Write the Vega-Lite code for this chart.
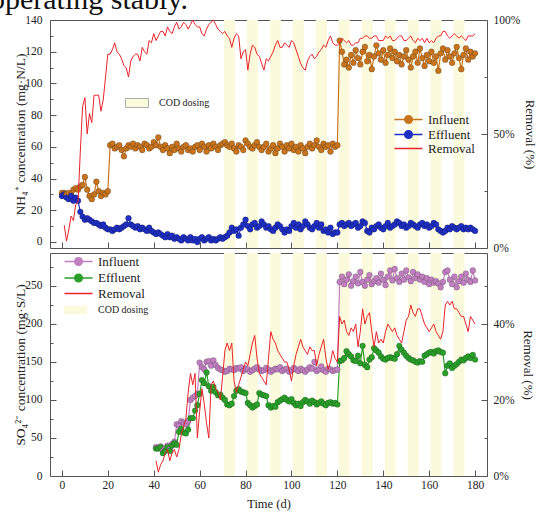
{
"$schema": "https://vega.github.io/schema/vega-lite/v6.json",
"autosize": {"type": "pad"},
"padding": {"left": -10, "top": -16, "right": 0, "bottom": 0},
"background": "white",
"title": {"text": "operating stably.", "anchor": "start", "frame": "group", "font": "Liberation Serif", "fontSize": 30, "fontWeight": "normal", "color": "#111", "dx": -60, "dy": 25, "baseline": "alphabetic", "offset": 0},
"datasets": {
"cod": [{"s":70.6,"e":75.4},{"s":80.6,"e":85.4},{"s":90.6,"e":95.4},{"s":100.6,"e":105.4},{"s":110.6,"e":115.4},{"s":120.6,"e":125.4},{"s":130.6,"e":135.4},{"s":140.6,"e":145.4},{"s":150.6,"e":155.4},{"s":160.6,"e":165.4},{"s":170.6,"e":175.4}],
"top": [
{"d":0,"Influent":31,"Effluent":29},
{"d":1,"Influent":31,"Effluent":30,"Removal":10},
{"d":2,"Influent":30,"Effluent":28,"Removal":3},
{"d":3,"Influent":31,"Effluent":27,"Removal":8},
{"d":4,"Influent":30,"Effluent":29,"Removal":14},
{"d":5,"Influent":33,"Effluent":26,"Removal":12},
{"d":6,"Influent":34,"Effluent":28,"Removal":19},
{"d":7,"Influent":33,"Effluent":26,"Removal":20},
{"d":8,"Influent":35,"Effluent":19,"Removal":42},
{"d":9,"Influent":36,"Effluent":16,"Removal":62},
{"d":10,"Influent":41,"Effluent":14,"Removal":66},
{"d":11,"Influent":33,"Effluent":15,"Removal":50},
{"d":12,"Influent":29,"Effluent":14,"Removal":59},
{"d":13,"Influent":27,"Effluent":13,"Removal":55},
{"d":14,"Influent":30,"Effluent":12,"Removal":67},
{"d":15,"Influent":38,"Effluent":12,"Removal":67},
{"d":16,"Influent":32,"Effluent":11,"Removal":67},
{"d":17,"Influent":29,"Effluent":10,"Removal":60},
{"d":18,"Influent":31,"Effluent":11,"Removal":65},
{"d":19,"Influent":30,"Effluent":9,"Removal":75},
{"d":20,"Influent":32,"Effluent":8,"Removal":85},
{"d":21,"Influent":61,"Effluent":8,"Removal":85},
{"d":22,"Influent":62,"Effluent":7,"Removal":87},
{"d":23,"Influent":59,"Effluent":8,"Removal":90},
{"d":24,"Influent":60,"Effluent":9,"Removal":86},
{"d":25,"Influent":61,"Effluent":8,"Removal":85},
{"d":26,"Influent":58,"Effluent":9,"Removal":83},
{"d":27,"Influent":54,"Effluent":10,"Removal":80},
{"d":28,"Influent":59,"Effluent":11,"Removal":79},
{"d":29,"Influent":61,"Effluent":15,"Removal":75},
{"d":30,"Influent":60,"Effluent":11,"Removal":82},
{"d":31,"Influent":62,"Effluent":10,"Removal":84},
{"d":32,"Influent":59,"Effluent":9,"Removal":85},
{"d":33,"Influent":61,"Effluent":10,"Removal":85},
{"d":34,"Influent":60,"Effluent":8,"Removal":82},
{"d":35,"Influent":58,"Effluent":9,"Removal":88},
{"d":36,"Influent":62,"Effluent":8,"Removal":86},
{"d":37,"Influent":61,"Effluent":7,"Removal":85},
{"d":38,"Influent":59,"Effluent":9,"Removal":91},
{"d":39,"Influent":60,"Effluent":7,"Removal":90},
{"d":40,"Influent":63,"Effluent":6,"Removal":94},
{"d":41,"Influent":61,"Effluent":5,"Removal":91},
{"d":42,"Influent":66,"Effluent":6,"Removal":93},
{"d":43,"Influent":60,"Effluent":5,"Removal":95},
{"d":44,"Influent":58,"Effluent":4,"Removal":95},
{"d":45,"Influent":61,"Effluent":3,"Removal":93},
{"d":46,"Influent":59,"Effluent":5,"Removal":97},
{"d":47,"Influent":56,"Effluent":3,"Removal":95},
{"d":48,"Influent":60,"Effluent":4,"Removal":94},
{"d":49,"Influent":58,"Effluent":2,"Removal":97},
{"d":50,"Influent":62,"Effluent":3,"Removal":99},
{"d":51,"Influent":59,"Effluent":2,"Removal":96},
{"d":52,"Influent":57,"Effluent":1,"Removal":97},
{"d":53,"Influent":60,"Effluent":3,"Removal":99},
{"d":54,"Influent":61,"Effluent":2,"Removal":98},
{"d":55,"Influent":58,"Effluent":1,"Removal":96},
{"d":56,"Influent":59,"Effluent":3,"Removal":98},
{"d":57,"Influent":57,"Effluent":1,"Removal":100},
{"d":58,"Influent":60,"Effluent":2,"Removal":98},
{"d":59,"Influent":61,"Effluent":0,"Removal":97},
{"d":60,"Influent":58,"Effluent":2,"Removal":97},
{"d":61,"Influent":62,"Effluent":3,"Removal":94},
{"d":62,"Influent":60,"Effluent":1,"Removal":93},
{"d":63,"Influent":57,"Effluent":2,"Removal":96},
{"d":64,"Influent":61,"Effluent":3,"Removal":98},
{"d":65,"Influent":59,"Effluent":1,"Removal":99},
{"d":66,"Influent":62,"Effluent":2,"Removal":100},
{"d":67,"Influent":60,"Effluent":1,"Removal":98},
{"d":68,"Influent":58,"Effluent":2,"Removal":96},
{"d":69,"Influent":61,"Effluent":3,"Removal":95},
{"d":70,"Influent":62,"Effluent":2,"Removal":94},
{"d":71,"Influent":63,"Effluent":3,"Removal":95},
{"d":72,"Influent":61,"Effluent":4,"Removal":93},
{"d":73,"Influent":60,"Effluent":6,"Removal":92},
{"d":74,"Influent":62,"Effluent":9,"Removal":88},
{"d":75,"Influent":59,"Effluent":7,"Removal":92},
{"d":76,"Influent":57,"Effluent":8,"Removal":94},
{"d":77,"Influent":61,"Effluent":4,"Removal":93},
{"d":78,"Influent":60,"Effluent":9,"Removal":83},
{"d":79,"Influent":58,"Effluent":11,"Removal":86},
{"d":80,"Influent":64,"Effluent":14,"Removal":87},
{"d":81,"Influent":62,"Effluent":10,"Removal":78},
{"d":82,"Influent":60,"Effluent":8,"Removal":85},
{"d":83,"Influent":59,"Effluent":11,"Removal":89},
{"d":84,"Influent":61,"Effluent":12,"Removal":88},
{"d":85,"Influent":63,"Effluent":9,"Removal":85},
{"d":86,"Influent":60,"Effluent":10,"Removal":84},
{"d":87,"Influent":58,"Effluent":13,"Removal":81},
{"d":88,"Influent":60,"Effluent":11,"Removal":78},
{"d":89,"Influent":62,"Effluent":9,"Removal":83},
{"d":90,"Influent":57,"Effluent":10,"Removal":82},
{"d":91,"Influent":59,"Effluent":8,"Removal":84},
{"d":92,"Influent":61,"Effluent":7,"Removal":86},
{"d":93,"Influent":56,"Effluent":9,"Removal":89},
{"d":94,"Influent":59,"Effluent":11,"Removal":91},
{"d":95,"Influent":62,"Effluent":10,"Removal":88},
{"d":96,"Influent":60,"Effluent":8,"Removal":88},
{"d":97,"Influent":57,"Effluent":6,"Removal":90},
{"d":98,"Influent":61,"Effluent":8,"Removal":89},
{"d":99,"Influent":59,"Effluent":7,"Removal":88},
{"d":100,"Influent":62,"Effluent":10,"Removal":91},
{"d":101,"Influent":58,"Effluent":12,"Removal":90},
{"d":102,"Influent":60,"Effluent":9,"Removal":87},
{"d":103,"Influent":57,"Effluent":11,"Removal":84},
{"d":104,"Influent":61,"Effluent":8,"Removal":81},
{"d":105,"Influent":59,"Effluent":10,"Removal":79},
{"d":106,"Influent":56,"Effluent":13,"Removal":78},
{"d":107,"Influent":60,"Effluent":11,"Removal":82},
{"d":108,"Influent":62,"Effluent":9,"Removal":84},
{"d":109,"Influent":59,"Effluent":8,"Removal":85},
{"d":110,"Influent":61,"Effluent":10,"Removal":83},
{"d":111,"Influent":64,"Effluent":12,"Removal":84},
{"d":112,"Influent":60,"Effluent":9,"Removal":86},
{"d":113,"Influent":58,"Effluent":11,"Removal":87},
{"d":114,"Influent":62,"Effluent":7,"Removal":89},
{"d":115,"Influent":60,"Effluent":8,"Removal":88},
{"d":116,"Influent":61,"Effluent":6,"Removal":91},
{"d":117,"Influent":57,"Effluent":9,"Removal":93},
{"d":118,"Influent":62,"Effluent":5,"Removal":90},
{"d":119,"Influent":60,"Effluent":6,"Removal":89},
{"d":120,"Influent":61,"Effluent":6,"Removal":89},
{"d":121,"Influent":127,"Effluent":11,"Removal":90},
{"d":122,"Influent":120,"Effluent":12,"Removal":92},
{"d":123,"Influent":112,"Effluent":10,"Removal":91},
{"d":124,"Influent":115,"Effluent":11,"Removal":90},
{"d":125,"Influent":110,"Effluent":12,"Removal":91},
{"d":126,"Influent":118,"Effluent":10,"Removal":89},
{"d":127,"Influent":113,"Effluent":11,"Removal":89},
{"d":128,"Influent":121,"Effluent":12,"Removal":90},
{"d":129,"Influent":116,"Effluent":9,"Removal":90},
{"d":130,"Influent":112,"Effluent":10,"Removal":92},
{"d":131,"Influent":120,"Effluent":13,"Removal":92},
{"d":132,"Influent":123,"Effluent":12,"Removal":93},
{"d":133,"Influent":114,"Effluent":7,"Removal":93},
{"d":134,"Influent":118,"Effluent":6,"Removal":92},
{"d":135,"Influent":109,"Effluent":9,"Removal":92},
{"d":136,"Influent":117,"Effluent":8,"Removal":93},
{"d":137,"Influent":124,"Effluent":10,"Removal":93},
{"d":138,"Influent":119,"Effluent":11,"Removal":91},
{"d":139,"Influent":115,"Effluent":9,"Removal":91},
{"d":140,"Influent":121,"Effluent":8,"Removal":91},
{"d":141,"Influent":113,"Effluent":10,"Removal":93},
{"d":142,"Influent":118,"Effluent":12,"Removal":92},
{"d":143,"Influent":122,"Effluent":9,"Removal":93},
{"d":144,"Influent":116,"Effluent":10,"Removal":91},
{"d":145,"Influent":120,"Effluent":11,"Removal":91},
{"d":146,"Influent":114,"Effluent":13,"Removal":92},
{"d":147,"Influent":118,"Effluent":12,"Removal":93},
{"d":148,"Influent":112,"Effluent":10,"Removal":93},
{"d":149,"Influent":117,"Effluent":11,"Removal":91},
{"d":150,"Influent":121,"Effluent":9,"Removal":91},
{"d":151,"Influent":115,"Effluent":10,"Removal":92},
{"d":152,"Influent":110,"Effluent":12,"Removal":93},
{"d":153,"Influent":117,"Effluent":11,"Removal":91},
{"d":154,"Influent":120,"Effluent":10,"Removal":90},
{"d":155,"Influent":113,"Effluent":9,"Removal":92},
{"d":156,"Influent":122,"Effluent":11,"Removal":91},
{"d":157,"Influent":116,"Effluent":12,"Removal":92},
{"d":158,"Influent":111,"Effluent":10,"Removal":90},
{"d":159,"Influent":118,"Effluent":11,"Removal":92},
{"d":160,"Influent":114,"Effluent":9,"Removal":90},
{"d":161,"Influent":120,"Effluent":10,"Removal":91},
{"d":162,"Influent":113,"Effluent":12,"Removal":90},
{"d":163,"Influent":117,"Effluent":11,"Removal":92},
{"d":164,"Influent":108,"Effluent":8,"Removal":93},
{"d":165,"Influent":119,"Effluent":7,"Removal":93},
{"d":166,"Influent":122,"Effluent":6,"Removal":95},
{"d":167,"Influent":115,"Effluent":7,"Removal":95},
{"d":168,"Influent":121,"Effluent":9,"Removal":93},
{"d":169,"Influent":117,"Effluent":8,"Removal":92},
{"d":170,"Influent":113,"Effluent":10,"Removal":93},
{"d":171,"Influent":119,"Effluent":9,"Removal":94},
{"d":172,"Influent":123,"Effluent":8,"Removal":93},
{"d":173,"Influent":116,"Effluent":9,"Removal":92},
{"d":174,"Influent":109,"Effluent":10,"Removal":93},
{"d":175,"Influent":118,"Effluent":8,"Removal":92},
{"d":176,"Influent":122,"Effluent":9,"Removal":91},
{"d":177,"Influent":115,"Effluent":8,"Removal":93},
{"d":178,"Influent":120,"Effluent":9,"Removal":93},
{"d":179,"Influent":117,"Effluent":8,"Removal":93},
{"d":180,"Influent":119,"Effluent":7,"Removal":94}
],
"bot": [
{"d":41,"Influent":38,"Effluent":36,"Removal":4},
{"d":42,"Influent":37,"Effluent":36,"Removal":1},
{"d":43,"Influent":39,"Effluent":38,"Removal":3},
{"d":44,"Influent":33,"Effluent":30,"Removal":4},
{"d":45,"Influent":36,"Effluent":33,"Removal":6},
{"d":46,"Influent":40,"Effluent":38,"Removal":7},
{"d":47,"Influent":35,"Effluent":33,"Removal":4},
{"d":48,"Influent":42,"Effluent":40,"Removal":6},
{"d":49,"Influent":45,"Effluent":43,"Removal":7},
{"d":50,"Influent":68,"Effluent":41,"Removal":5},
{"d":51,"Influent":66,"Effluent":58,"Removal":7},
{"d":52,"Influent":72,"Effluent":62,"Removal":11},
{"d":53,"Influent":70,"Effluent":57,"Removal":13},
{"d":54,"Influent":68,"Effluent":56,"Removal":15},
{"d":55,"Influent":72,"Effluent":61,"Removal":22},
{"d":56,"Influent":100,"Effluent":76,"Removal":27},
{"d":57,"Influent":103,"Effluent":76,"Removal":24},
{"d":58,"Influent":105,"Effluent":86,"Removal":27},
{"d":59,"Influent":108,"Effluent":93,"Removal":10},
{"d":60,"Influent":149,"Effluent":108,"Removal":17},
{"d":61,"Influent":143,"Effluent":126,"Removal":23},
{"d":62,"Influent":140,"Effluent":122,"Removal":19},
{"d":63,"Influent":150,"Effluent":136,"Removal":14},
{"d":64,"Influent":151,"Effluent":118,"Removal":10},
{"d":65,"Influent":145,"Effluent":112,"Removal":24},
{"d":66,"Influent":152,"Effluent":117,"Removal":25},
{"d":67,"Influent":146,"Effluent":110,"Removal":23},
{"d":68,"Influent":142,"Effluent":106,"Removal":22},
{"d":69,"Influent":140,"Effluent":107,"Removal":20},
{"d":70,"Influent":139,"Effluent":103,"Removal":26},
{"d":71,"Influent":137,"Effluent":100,"Removal":33},
{"d":72,"Influent":138,"Effluent":94,"Removal":35},
{"d":73,"Influent":141,"Effluent":93,"Removal":33},
{"d":74,"Influent":140,"Effluent":95,"Removal":35},
{"d":75,"Influent":139,"Effluent":105,"Removal":25},
{"d":76,"Influent":142,"Effluent":112,"Removal":22},
{"d":77,"Influent":141,"Effluent":114,"Removal":24},
{"d":78,"Influent":143,"Effluent":111,"Removal":26},
{"d":79,"Influent":138,"Effluent":110,"Removal":28},
{"d":80,"Influent":141,"Effluent":109,"Removal":30},
{"d":81,"Influent":140,"Effluent":96,"Removal":29},
{"d":82,"Influent":137,"Effluent":93,"Removal":32},
{"d":83,"Influent":139,"Effluent":90,"Removal":35},
{"d":84,"Influent":141,"Effluent":92,"Removal":37},
{"d":85,"Influent":143,"Effluent":94,"Removal":31},
{"d":86,"Influent":140,"Effluent":109,"Removal":27},
{"d":87,"Influent":138,"Effluent":107,"Removal":26},
{"d":88,"Influent":139,"Effluent":106,"Removal":25},
{"d":89,"Influent":142,"Effluent":105,"Removal":24},
{"d":90,"Influent":140,"Effluent":93,"Removal":31},
{"d":91,"Influent":137,"Effluent":90,"Removal":38},
{"d":92,"Influent":139,"Effluent":92,"Removal":36},
{"d":93,"Influent":141,"Effluent":91,"Removal":35},
{"d":94,"Influent":140,"Effluent":97,"Removal":33},
{"d":95,"Influent":143,"Effluent":99,"Removal":32},
{"d":96,"Influent":138,"Effluent":101,"Removal":31},
{"d":97,"Influent":140,"Effluent":103,"Removal":30},
{"d":98,"Influent":141,"Effluent":100,"Removal":30},
{"d":99,"Influent":137,"Effluent":98,"Removal":28},
{"d":100,"Influent":139,"Effluent":101,"Removal":25},
{"d":101,"Influent":142,"Effluent":96,"Removal":29},
{"d":102,"Influent":140,"Effluent":93,"Removal":32},
{"d":103,"Influent":138,"Effluent":95,"Removal":34},
{"d":104,"Influent":141,"Effluent":92,"Removal":36},
{"d":105,"Influent":139,"Effluent":97,"Removal":34},
{"d":106,"Influent":137,"Effluent":100,"Removal":33},
{"d":107,"Influent":140,"Effluent":98,"Removal":32},
{"d":108,"Influent":143,"Effluent":95,"Removal":34},
{"d":109,"Influent":141,"Effluent":99,"Removal":33},
{"d":110,"Influent":150,"Effluent":97,"Removal":33},
{"d":111,"Influent":138,"Effluent":94,"Removal":29},
{"d":112,"Influent":140,"Effluent":96,"Removal":32},
{"d":113,"Influent":144,"Effluent":98,"Removal":34},
{"d":114,"Influent":139,"Effluent":95,"Removal":36},
{"d":115,"Influent":137,"Effluent":93,"Removal":31},
{"d":116,"Influent":141,"Effluent":96,"Removal":28},
{"d":117,"Influent":140,"Effluent":97,"Removal":30},
{"d":118,"Influent":138,"Effluent":95,"Removal":33},
{"d":119,"Influent":139,"Effluent":96,"Removal":31},
{"d":120,"Influent":140,"Effluent":94,"Removal":30},
{"d":121,"Influent":255,"Effluent":151,"Removal":42},
{"d":122,"Influent":262,"Effluent":152,"Removal":40},
{"d":123,"Influent":252,"Effluent":155,"Removal":41},
{"d":124,"Influent":258,"Effluent":164,"Removal":38},
{"d":125,"Influent":265,"Effluent":160,"Removal":37},
{"d":126,"Influent":250,"Effluent":157,"Removal":39},
{"d":127,"Influent":256,"Effluent":152,"Removal":38},
{"d":128,"Influent":262,"Effluent":151,"Removal":40},
{"d":129,"Influent":253,"Effluent":158,"Removal":34},
{"d":130,"Influent":268,"Effluent":148,"Removal":38},
{"d":131,"Influent":255,"Effluent":171,"Removal":44},
{"d":132,"Influent":250,"Effluent":146,"Removal":40},
{"d":133,"Influent":258,"Effluent":143,"Removal":42},
{"d":134,"Influent":264,"Effluent":153,"Removal":43},
{"d":135,"Influent":252,"Effluent":156,"Removal":38},
{"d":136,"Influent":256,"Effluent":168,"Removal":34},
{"d":137,"Influent":260,"Effluent":165,"Removal":38},
{"d":138,"Influent":254,"Effluent":162,"Removal":35},
{"d":139,"Influent":266,"Effluent":157,"Removal":36},
{"d":140,"Influent":258,"Effluent":154,"Removal":35},
{"d":141,"Influent":251,"Effluent":153,"Removal":38},
{"d":142,"Influent":262,"Effluent":155,"Removal":40},
{"d":143,"Influent":270,"Effluent":156,"Removal":39},
{"d":144,"Influent":257,"Effluent":155,"Removal":38},
{"d":145,"Influent":272,"Effluent":154,"Removal":39},
{"d":146,"Influent":260,"Effluent":160,"Removal":37},
{"d":147,"Influent":255,"Effluent":171,"Removal":36},
{"d":148,"Influent":266,"Effluent":166,"Removal":35},
{"d":149,"Influent":258,"Effluent":162,"Removal":38},
{"d":150,"Influent":270,"Effluent":158,"Removal":41},
{"d":151,"Influent":261,"Effluent":155,"Removal":42},
{"d":152,"Influent":256,"Effluent":153,"Removal":45},
{"d":153,"Influent":268,"Effluent":152,"Removal":43},
{"d":154,"Influent":260,"Effluent":150,"Removal":42},
{"d":155,"Influent":265,"Effluent":149,"Removal":44},
{"d":156,"Influent":258,"Effluent":151,"Removal":44},
{"d":157,"Influent":262,"Effluent":150,"Removal":42},
{"d":158,"Influent":255,"Effluent":158,"Removal":40},
{"d":159,"Influent":260,"Effluent":160,"Removal":39},
{"d":160,"Influent":252,"Effluent":162,"Removal":38},
{"d":161,"Influent":258,"Effluent":163,"Removal":39},
{"d":162,"Influent":254,"Effluent":161,"Removal":40},
{"d":163,"Influent":256,"Effluent":164,"Removal":38},
{"d":164,"Influent":253,"Effluent":165,"Removal":37},
{"d":165,"Influent":248,"Effluent":163,"Removal":36},
{"d":166,"Influent":255,"Effluent":162,"Removal":38},
{"d":167,"Influent":268,"Effluent":135,"Removal":45},
{"d":168,"Influent":270,"Effluent":145,"Removal":46},
{"d":169,"Influent":258,"Effluent":148,"Removal":45},
{"d":170,"Influent":252,"Effluent":142,"Removal":46},
{"d":171,"Influent":262,"Effluent":145,"Removal":44},
{"d":172,"Influent":248,"Effluent":147,"Removal":44},
{"d":173,"Influent":256,"Effluent":150,"Removal":43},
{"d":174,"Influent":262,"Effluent":153,"Removal":42},
{"d":175,"Influent":254,"Effluent":152,"Removal":42},
{"d":176,"Influent":266,"Effluent":155,"Removal":40},
{"d":177,"Influent":258,"Effluent":157,"Removal":38},
{"d":178,"Influent":255,"Effluent":155,"Removal":42},
{"d":179,"Influent":270,"Effluent":159,"Removal":41},
{"d":180,"Influent":257,"Effluent":153,"Removal":40}
]
},
"vconcat": [
{
"width": 437, "height": 228,
"layer": [
{"data": {"name": "cod"}, "mark": {"type": "rect"},
 "encoding": {
  "x": {"field": "s", "type": "quantitative", "scale": {"domain": [-5.2, 185.2], "nice": false, "zero": false},
        "axis": {"orient": "bottom", "values": [0,10,20,30,40,50,60,70,80,90,100,110,120,130,140,150,160,170,180], "labels": false, "title": null, "domain": false, "grid": false,
                 "tickSize": {"condition": {"test": "datum.value % 20 === 0", "value": -6}, "value": -3}}},
  "x2": {"field": "e"},
  "fill": {"datum": "COD dosing", "type": "nominal", "scale": {"range": ["#fcfadc"]},
           "legend": {"orient": "none", "legendX": 75, "legendY": 78, "title": null, "padding": 0, "symbolSize": 81, "labelOffset": 24,
                      "labelFont": "Liberation Serif", "labelFontSize": 10, "labelColor": "#222",
                      "encode": {"symbols": {"update": {"shape": {"value": "M-1,-1H4.1V1H-1Z"}, "fill": {"value": "#fbf9d8"}, "stroke": {"value": "#999"}, "strokeWidth": {"value": 0.8}, "fillOpacity": {"value": 1}, "opacity": {"value": 1}}}}}}
 }},
{"data": {"name": "top"}, "transform": [{"fold": ["Influent", "Effluent"], "as": ["series", "conc"]}],
 "encoding": {
  "x": {"field": "d", "type": "quantitative"},
  "y": {"field": "conc", "type": "quantitative", "scale": {"domain": [-3.8, 140], "nice": false, "zero": false},
        "axis": {"orient": "left", "values": [0,10,20,30,40,50,60,70,80,90,100,110,120,130,140], "labelExpr": "datum.value % 20 === 0 ? datum.label : ''",
                 "title": "NH₄⁺ concentration (mg·N/L)", "domain": false, "grid": false, "labelPadding": 14, "titlePadding": -3,
                 "tickSize": {"condition": {"test": "datum.value % 20 === 0", "value": -6}, "value": -3}}},
  "color": {"field": "series", "type": "nominal", "scale": {"domain": ["Influent", "Effluent", "Removal"], "range": ["#c8741e", "#1f2fc4", "#e8232a"]},
            "legend": {"orient": "none", "legendX": 342, "legendY": 93, "title": null, "padding": 0, "symbolSize": 64, "labelOffset": 23, "rowPadding": 0,
                       "labelFont": "Liberation Serif", "labelFontSize": 13, "labelColor": "#222",
                       "encode": {"symbols": {"update": {
                         "shape": {"signal": "datum.value === 'Removal' ? 'M-1,0H6' : 'M-1,0H6M1.55,0A0.95,0.95 0 1,1 3.45,0A0.95,0.95 0 1,1 1.55,0'"},
                         "fill": {"signal": "datum.value === 'Influent' ? '#d4822f' : datum.value === 'Effluent' ? '#2f40d6' : 'transparent'"},
                         "stroke": {"signal": "datum.value === 'Influent' ? '#b8661a' : datum.value === 'Effluent' ? '#1f2fc4' : '#e8232a'"},
                         "strokeWidth": {"value": 1.5}, "fillOpacity": {"value": 1}, "strokeOpacity": {"value": 1}, "opacity": {"value": 1}}}}}}
 },
 "layer": [
  {"mark": {"type": "line", "strokeWidth": 1.2}},
  {"mark": {"type": "point", "filled": true, "size": 34, "opacity": 1, "stroke": "rgba(0,0,0,0.35)", "strokeWidth": 0.6}}
 ]},
{"data": {"name": "top"}, "transform": [{"filter": "isValid(datum.Removal)"}],
 "mark": {"type": "line", "strokeWidth": 1},
 "encoding": {
  "x": {"field": "d", "type": "quantitative"},
  "y": {"field": "Removal", "type": "quantitative", "scale": {"domain": [0, 100], "nice": false, "zero": false},
        "axis": {"orient": "right", "values": [0,25,50,75,100], "labelExpr": "datum.value % 50 === 0 ? datum.value + '%' : ''",
                 "title": "Removal (%)", "titleFontSize": 13, "domain": false, "grid": false, "labelPadding": 12, "titlePadding": 3,
                 "tickSize": {"condition": {"test": "datum.value % 50 === 0", "value": -6}, "value": -3}}},
  "color": {"datum": "Removal", "type": "nominal"}
 }}
],
"resolve": {"scale": {"y": "independent"}}
},
{
"width": 437, "height": 223,
"layer": [
{"data": {"name": "cod"}, "mark": {"type": "rect"},
 "encoding": {
  "x": {"field": "s", "type": "quantitative", "scale": {"domain": [-5.2, 185.2], "nice": false, "zero": false},
        "axis": {"orient": "bottom", "values": [0,10,20,30,40,50,60,70,80,90,100,110,120,130,140,150,160,170,180], "labelExpr": "datum.value % 20 === 0 ? datum.label : ''", "title": "Time (d)", "domain": false, "grid": false, "labelPadding": 9, "titlePadding": 7,
                 "tickSize": {"condition": {"test": "datum.value % 20 === 0", "value": -6}, "value": -3}}},
  "x2": {"field": "e"},
  "color": {"datum": "COD dosing", "type": "nominal"}
 }},
{"data": {"name": "bot"}, "transform": [{"fold": ["Influent", "Effluent"], "as": ["series", "conc"]}],
 "encoding": {
  "x": {"field": "d", "type": "quantitative"},
  "y": {"field": "conc", "type": "quantitative", "scale": {"domain": [0, 293], "nice": false, "zero": false},
        "axis": {"orient": "left", "values": [0,25,50,75,100,125,150,175,200,225,250,275], "labelExpr": "datum.value % 50 === 0 ? datum.label : ''",
                 "title": "SO₄²⁻ concentration (mg·S/L)", "domain": false, "grid": false, "labelPadding": 14, "titlePadding": -3,
                 "tickSize": {"condition": {"test": "datum.value % 50 === 0", "value": -6}, "value": -3}}},
  "color": {"field": "series", "type": "nominal", "scale": {"domain": ["Influent", "Effluent", "Removal", "COD dosing"], "range": ["#c080c0", "#2aa02a", "#e8232a", "#fcfadc"]},
            "legend": {"orient": "none", "legendX": 12, "legendY": 2, "title": null, "padding": 0, "symbolSize": 64, "labelOffset": 23, "rowPadding": 1.5,
                       "labelFont": "Liberation Serif", "labelFontSize": 13, "labelColor": "#222",
                       "encode": {
                         "symbols": {"update": {
                           "shape": {"signal": "datum.value === 'Removal' ? 'M-1,0H6' : datum.value === 'COD dosing' ? 'M-1,-0.9H4.5V0.9H-1Z' : 'M-1,0H6M1.55,0A0.95,0.95 0 1,1 3.45,0A0.95,0.95 0 1,1 1.55,0'"},
                           "fill": {"signal": "datum.value === 'Influent' ? '#c98fc9' : datum.value === 'Effluent' ? '#2fa52f' : datum.value === 'COD dosing' ? '#fbf9d8' : 'transparent'"},
                           "stroke": {"signal": "datum.value === 'Influent' ? '#a866a8' : datum.value === 'Effluent' ? '#1f8f1f' : datum.value === 'Removal' ? '#e8232a' : 'transparent'"},
                           "strokeWidth": {"value": 1.5}, "fillOpacity": {"value": 1}, "strokeOpacity": {"value": 1}, "opacity": {"value": 1}}},
                         "labels": {"update": {"fontSize": {"signal": "datum.value === 'COD dosing' ? 10 : 13"}}}}}}
 },
 "layer": [
  {"mark": {"type": "line", "strokeWidth": 1.2}},
  {"mark": {"type": "point", "filled": true, "size": 34, "opacity": 1, "stroke": "rgba(0,0,0,0.3)", "strokeWidth": 0.6}}
 ]},
{"data": {"name": "bot"},
 "mark": {"type": "line", "strokeWidth": 1},
 "encoding": {
  "x": {"field": "d", "type": "quantitative"},
  "y": {"field": "Removal", "type": "quantitative", "scale": {"domain": [0, 58.7], "nice": false, "zero": false},
        "axis": {"orient": "right", "values": [0,10,20,30,40,50], "labelExpr": "datum.value % 20 === 0 ? datum.value + '%' : ''",
                 "title": "Removal (%)", "titleFontSize": 13, "domain": false, "grid": false, "labelPadding": 12, "titlePadding": 6,
                 "tickSize": {"condition": {"test": "datum.value % 20 === 0", "value": -6}, "value": -3}}},
  "color": {"datum": "Removal", "type": "nominal"}
 }}
],
"resolve": {"scale": {"y": "independent"}}
}
],
"spacing": 5,
"bounds": "flush",
"resolve": {"scale": {"x": "independent", "y": "independent", "color": "independent", "fill": "independent"}, "legend": {"color": "independent", "fill": "independent"}},
"config": {
 "view": {"stroke": "#555", "strokeWidth": 1},
 "axis": {"labelFont": "Liberation Serif", "titleFont": "Liberation Serif", "labelFontSize": 11.5, "titleFontSize": 13.5, "titleFontWeight": "normal", "labelColor": "#222", "titleColor": "#222", "tickColor": "#555", "tickWidth": 1},
 "axisX": {"titleFontSize": 12.5},
 "legend": {"labelFont": "Liberation Serif"}
}
}
